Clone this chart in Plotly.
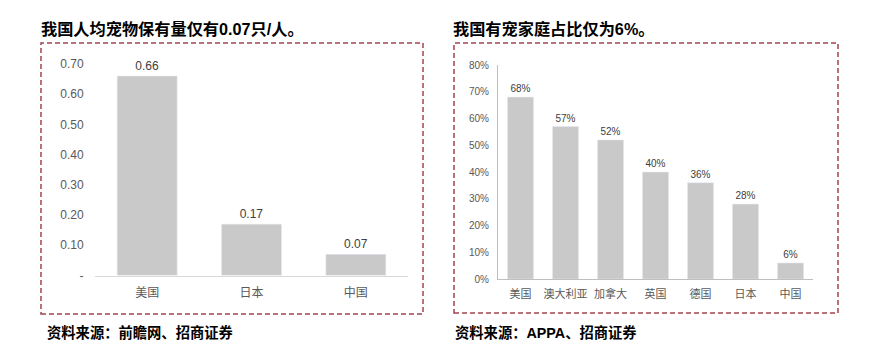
import plotly.graph_objects as go

W, H = 881, 346

# Left chart data
left_title = "我国人均宠物保有量仅有0.07只/人。"
left_cats = ["美国", "日本", "中国"]
left_vals = [0.66, 0.17, 0.07]
left_labels = ["0.66", "0.17", "0.07"]
left_tickvals = [0, 0.1, 0.2, 0.3, 0.4, 0.5, 0.6, 0.7]
left_ticktext = ["-", "0.10", "0.20", "0.30", "0.40", "0.50", "0.60", "0.70"]
left_source = "资料来源：前瞻网、招商证券"

# Right chart data
right_title = "我国有宠家庭占比仅为6%。"
right_cats = ["美国", "澳大利亚", "加拿大", "英国", "德国", "日本", "中国"]
right_vals = [68, 57, 52, 40, 36, 28, 6]
right_tickvals = [0, 10, 20, 30, 40, 50, 60, 70, 80]
right_ticktext = ["0%", "10%", "20%", "30%", "40%", "50%", "60%", "70%", "80%"]
right_source = "资料来源：APPA、招商证券"

FONT = "Liberation Sans, Arial, Noto Sans CJK SC, sans-serif"
CJK = "Noto Sans CJK SC, Liberation Sans, sans-serif"
BAR = "#c9c9c9"
TXT = "#595959"

def px(x):
    return x / W

def py(y):
    return 1 - y / H

fig = go.Figure()
fig.add_trace(go.Bar(
    x=left_cats, y=left_vals, marker_color=BAR, width=0.575,
    text=left_labels, textposition="outside", cliponaxis=False,
    textfont=dict(size=12, color="#404040", family=FONT),
    xaxis="x", yaxis="y", showlegend=False,
))
fig.add_trace(go.Bar(
    x=right_cats, y=right_vals, marker_color=BAR, width=0.58,
    text=[f"{v}%" for v in right_vals], textposition="outside", cliponaxis=False,
    textfont=dict(size=10, color="#404040", family=FONT),
    xaxis="x2", yaxis="y2", showlegend=False,
))

fig.update_layout(
    width=W, height=H, margin=dict(l=0, r=0, t=0, b=0, autoexpand=False),
    paper_bgcolor="white", plot_bgcolor="white",
    font=dict(family=FONT, color=TXT),
    xaxis=dict(domain=[px(95), px(408)], showline=True, linecolor="#d9d9d9",
               linewidth=1, ticks="", showgrid=False, zeroline=False, automargin=False,
               ticklabelstandoff=6,
               tickfont=dict(size=12, color=TXT, family=CJK), anchor="y"),
    yaxis=dict(domain=[py(275.5), py(64)], range=[0, 0.7], tickvals=left_tickvals,
               ticktext=left_ticktext, showgrid=False, zeroline=False, showline=False,
               automargin=False,
               tickfont=dict(size=12, color=TXT), ticks="outside", ticklen=8,
               tickcolor="rgba(0,0,0,0)", anchor="x"),
    xaxis2=dict(domain=[px(498), px(813)], showline=True, linecolor="#bfbfbf",
                linewidth=1, ticks="", showgrid=False, zeroline=False, automargin=False,
                ticklabelstandoff=5,
                tickfont=dict(size=11, color=TXT, family=CJK), anchor="y2"),
    yaxis2=dict(domain=[py(279), py(65)], range=[0, 80], tickvals=right_tickvals,
                ticktext=right_ticktext, showgrid=False, zeroline=False, showline=True,
                linecolor="#bfbfbf", linewidth=1, automargin=False,
                tickfont=dict(size=10, color=TXT), ticks="outside", ticklen=6,
                tickcolor="rgba(0,0,0,0)", anchor="x2"),
    bargap=0.42,
)

DASH = "#a3434f"
fig.add_shape(type="rect", xref="paper", yref="paper",
              x0=px(41), x1=px(423), y0=py(314), y1=py(43),
              line=dict(color=DASH, width=1.5, dash="5px,3px"))
fig.add_shape(type="rect", xref="paper", yref="paper",
              x0=px(454), x1=px(838), y0=py(313), y1=py(43),
              line=dict(color=DASH, width=1.5, dash="5px,3px"))

def note(text, x, y, size):
    fig.add_annotation(text=f"<b>{text}</b>", xref="paper", yref="paper",
                       x=px(x), y=py(y), xanchor="left", yanchor="middle",
                       showarrow=False, font=dict(size=size, color="black", family=FONT))

note(left_title, 39, 29, 16.2)
note(right_title, 451, 29, 16.2)
note(left_source, 45, 332, 14.3)
note(right_source, 453, 332, 14.3)

fig.write_html("out.html")
